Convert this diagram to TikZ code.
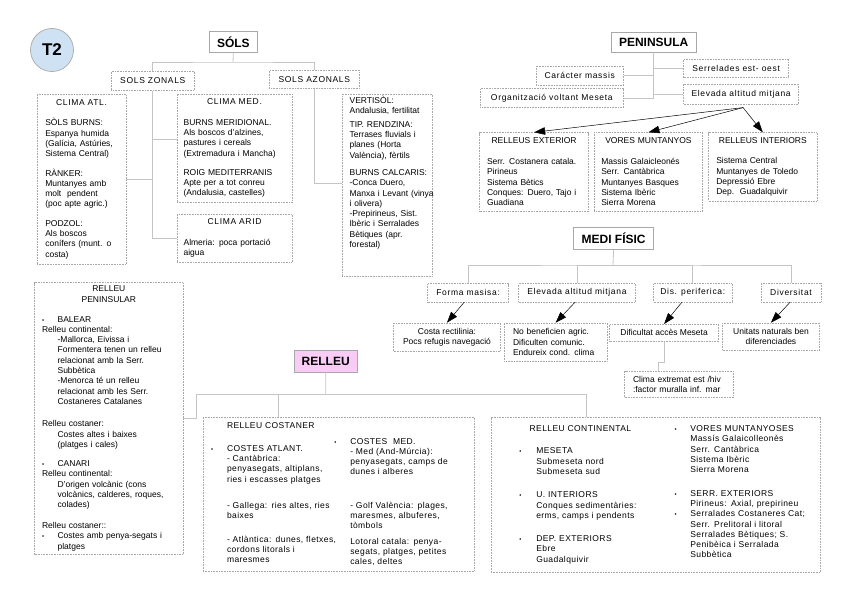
\documentclass[tikz,border=0pt]{standalone}
\usepackage{fontspec}
\setmainfont{Liberation Sans}
\newfontfamily\tagfamily[LetterSpace=8]{Liberation Sans}
\newfontfamily\boxfamily[LetterSpace=5]{Liberation Sans}
\usetikzlibrary{arrows.meta}

\definecolor{linkgray}{HTML}{C4C4C4}
\definecolor{boxgray}{HTML}{A8A8A8}
\definecolor{titlepink}{HTML}{F9CCF6}
\definecolor{t2blue}{HTML}{CFE2F3}

\newcommand\bodyfont{\fontsize{8.5}{10.3}\selectfont}
\newcommand\tagfont{\tagfamily\fontsize{8.5}{10.3}\selectfont}
\newcommand\boxfont{\boxfamily\fontsize{8.5}{10.3}\selectfont}
\newcommand\titlefont{\fontsize{12}{12}\selectfont\bfseries}
\newcommand\pind{\hspace*{15.6pt}}
\newcommand\pbul{\makebox[15.6pt][l]{\fontsize{6}{6}\selectfont\textbullet}}
\newcommand\lbul[1]{\leavevmode\llap{\makebox[#1][l]{\fontsize{6}{6}\selectfont\textbullet}}}
\newcommand\midline[1]{\hfill{#1}\hfill\null}

\begin{document}
\begin{tikzpicture}[x=1pt, y=-1pt,
  link/.style={draw=linkgray, line width=0.8pt},
  arr/.style={-{Triangle[length=11pt,width=7.5pt]}, line width=0.5pt},
  card/.style={draw=boxgray, densely dotted, line width=0.6pt, anchor=north west,
    align=left, font=\bodyfont, inner ysep=2pt},
  tag/.style={draw=boxgray, densely dotted, line width=0.6pt, anchor=north west,
    align=center, font=\tagfont, inner sep=1pt},
  title/.style={draw=boxgray, line width=0.7pt, fill=white, anchor=north west,
    font=\titlefont, inner sep=1pt},
]
\useasboundingbox (0,0) rectangle (848,599);

% soils
\node[circle, draw=boxgray, line width=0.7pt, fill=t2blue, minimum size=43pt,
  inner sep=0pt, font=\fontsize{17}{17}\selectfont\bfseries] (t2) at (52,50) {T2};
\node[title, minimum width=48pt, minimum height=21pt] (sols) at (209,31) {SÓLS};
\node[tag, minimum width=83pt, minimum height=19pt] (zon) at (111,71) {SOLS ZONALS};
\node[tag, minimum width=90pt, minimum height=18pt] (azon) at (269,70) {SOLS AZONALS};

\node[card, inner xsep=8.3pt, text width=72.4pt, minimum height=170pt] (atl) at (36.7,94)
  {\midline{\tagfamily CLIMA ATL.}\\[10pt]
   SÒLS BURNS:\\ Espanya humida\\ (Galícia, Astúries,\\ Sistema Central)\\[9pt]
   RÀNKER:\\ Muntanyes amb\\ molt\ \ pendent\\ (poc apte agric.)\\[9pt]
   PODZOL:\\ Als boscos\\ conífers (munt. o\\ costa)};
\node[card, inner xsep=6.6pt, text width=101.8pt, minimum height=108pt] (med) at (176.7,94)
  {\midline{\tagfamily CLIMA MED.}\\[10pt]
   BURNS MERIDIONAL.\\ Als boscos d'alzines,\\ pastures i cereals\\ (Extremadura i Mancha)\\[9pt]
   ROIG MEDITERRANIS\\ Apte per a tot conreu\\ (Andalusia, castelles)};
\node[card, inner xsep=6.6pt, text width=101.8pt, minimum height=47.7pt] (arid) at (176.7,214)
  {\midline{\tagfamily CLIMA ARID}\\[10pt]
   Almeria: poca portació\\ aigua};
\node[card, inner xsep=7.3pt, text width=75.4pt, minimum height=180pt] (vert) at (342,94)
  {VERTISÒL:\\ Andalusia, fertilitat\\[3pt]
   TIP. RENDZINA:\\ Terrases fluvials i\\ planes (Horta\\ València), fèrtils\\[7pt]
   \mbox{BURNS CALCARIS:}\\ -Conca Duero,\\ \mbox{Manxa i Levant (vinya}\\ i olivera)\\
   -Prepirineus, Sist.\\ \mbox{Ibèric i Serralades}\\ Bètiques (apr.\\ forestal)\\[16pt]\mbox{}};

\coordinate (solsbus) at (233,62);
\draw[link] (sols.south) -- (solsbus);
\draw[link] (zon.north) |- (solsbus) -| (azon.north);
\draw[link] (zon.south) |- (arid.west);
\draw[link] (atl.east) -- (atl.east -| zon.south);
\draw[link] ([yshift=-45pt]med.north west) -- ([yshift=-45pt]med.north west -| zon.south);
\draw[link] (azon.south) |- ([yshift=-89pt]vert.north west);

% peninsula
\node[title, minimum width=85.3pt, minimum height=20pt] (pen) at (610.7,31.7) {PENINSULA};
\node[tag, minimum width=87pt, minimum height=19.3pt] (car) at (536,65.7) {Carácter massis};
\node[tag, minimum width=143pt, minimum height=19pt] (org) at (480,88.3) {Organització voltant Meseta};
\node[tag, minimum width=105pt, minimum height=18.3pt] (serr) at (683.3,59) {Serrelades est- oest};
\node[tag, minimum width=115pt, minimum height=20pt] (elev) at (683.3,84) {Elevada altitud mitjana};

\node[card, inner xsep=7.4pt, text width=94.2pt, minimum height=78.4pt] (rext) at (479.3,132.3)
  {\midline{RELLEUS EXTERIOR}\\[10.4pt]
   Serr. Costanera catala.\\ Pirineus\\ Sistema Bètics\\ Conques: Duero, Tajo i\\ Guadiana};
\node[card, inner xsep=7pt, text width=94.3pt, minimum height=78.4pt] (vores) at (594,132.3)
  {\midline{VORES MUNTANYOS}\\[10.4pt]
   Massis Galaicleonés\\ Serr. Cantàbrica\\ Muntanyes Basques\\ Sistema Ibèric\\ Sierra Morena};
\node[card, inner xsep=7.7pt, text width=93pt, minimum height=68.4pt] (rint) at (708.3,132.3)
  {\midline{RELLEUS INTERIORS}\\[10.4pt]
   Sistema Central\\ Muntanyes de Toledo\\ Depressió Ebre\\ Dep.\ \ Guadalquivir};

\draw[link] (pen.south) |- (org.east);
\draw[link] (car.east) -- (car.east -| pen.south);
\draw[link] (serr.west) -- (serr.west -| pen.south);
\draw[link] (elev.west) -- (elev.west -| pen.south);
\coordinate (fork) at ([xshift=2pt,yshift=-3pt]elev.south);
\draw[arr] (fork) -- (rext.north);
\draw[arr] (fork) -- (vores.north);
\draw[arr] (fork) -- (rint.north);

% medi fisic
\node[title, minimum width=80pt, minimum height=21.7pt] (medi) at (573.3,227.3) {MEDI FÍSIC};
\node[tag, minimum width=81pt, minimum height=18.4pt] (forma) at (427.3,283.3) {Forma masisa:};
\node[tag, minimum width=116.7pt, minimum height=18.4pt] (alt) at (518.3,283.3) {Elevada altitud mitjana};
\node[tag, minimum width=78.4pt, minimum height=18.4pt] (dis) at (653.3,283.3) {Dis. periferica:};
\node[tag, minimum width=60pt, minimum height=18.4pt] (divers) at (760.7,283.3) {Diversitat};

\node[tag, font=\bodyfont, minimum width=106.7pt, minimum height=28pt] (costa) at (393.3,322.7)
  {Costa rectilinia:\\ Pocs refugis navegació};
\node[card, inner xsep=8.7pt, text width=85.3pt, minimum height=38.3pt] (nob) at (504,322.7)
  {No beneficien agric.\\ Dificulten comunic.\\ Endureix cond. clima};
\node[tag, font=\bodyfont, minimum width=109pt, minimum height=17pt] (dif) at (609.3,324)
  {Dificultat accès Meseta};
\node[tag, font=\bodyfont, minimum width=96.7pt, minimum height=27.3pt] (unit) at (722.3,322.7)
  {Unitats naturals ben\\ diferenciades};
\node[card, inner xsep=8.4pt, text width=91.6pt, minimum height=26.6pt] (clima) at (624.3,370.7)
  {Clima extremat est /hiv\\ :factor muralla inf. mar};

\coordinate (mbus) at (613,265);
\draw[link] (medi.south) -- (mbus);
\draw[link] (forma.north) |- (mbus) -| (divers.north);
\draw[link] (alt.north) |- (mbus);
\draw[link] (dis.north) |- (mbus);
\draw[arr] ([xshift=-4pt]forma.south) -- (costa.north);
\draw[arr] ([xshift=-2pt]alt.south) -- (nob.north);
\draw[arr] ([xshift=-11pt]dis.south) -- (dif.north);
\draw[arr] ([xshift=-1pt]divers.south) -- (unit.north);
\draw[link] (dif.south) |- ([xshift=-20pt,yshift=8pt]clima.north) -- ([xshift=-20pt]clima.north);

% relleu
\node[title, fill=titlepink, minimum width=62.7pt, minimum height=21.7pt] (relleu) at (294,350) {RELLEU};

\node[card, inner xsep=7.4pt, text width=133.6pt, minimum height=271.7pt] (penins) at (34.3,282.3)
  {\midline{RELLEU}\\ \midline{PENINSULAR}\\[9.7pt]
   \pbul BALEAR\\ Relleu continental:\\
   \pind -Mallorca, Eivissa i\\ \pind Formentera tenen un relleu\\
   \pind relacionat amb la Serr.\\ \pind Subbètica\\
   \pind -Menorca té un relleu\\ \pind relacionat amb les Serr.\\
   \pind Costaneres Catalanes\\[12pt]
   Relleu costaner:\\ \pind Costes altes i baixes\\ \pind (platges i cales)\\[9pt]
   \pbul CANARI\\ Relleu continental:\\
   \pind D'origen volcànic (cons\\ \pind volcànics, calderes, roques,\\ \pind colades)\\[10.4pt]
   Relleu costaner::\\ \pbul Costes amb penya-segats i\\ \pind platges};

\node[card, font=\boxfont, inner xsep=0pt, text width=271.3pt, minimum height=154pt] (cost) at (202.7,416.7)
  {\hspace*{24pt}\begin{minipage}[t]{115pt}\raggedright
     RELLEU COSTANER\\[13pt]
     \lbul{16pt}COSTES ATLANT.\\ - Cantàbrica:\\ penyasegats, altiplans,\\ ries i escasses platges\\[16pt]
     - Gallega: ries altes, ries\\ baixes\\[13pt]
     - Atlàntica: dunes, fletxes,\\ cordons litorals i\\ maresmes
   \end{minipage}\hspace{8.3pt}\begin{minipage}[t]{116pt}\raggedright
     \mbox{}\\[5.7pt]
     \lbul{16pt}COSTES\ \ MED.\\ - Med (And-Múrcia):\\ penyasegats, camps de\\ dunes i alberes\\[23pt]
     - Golf València: plages,\\ maresmes, albuferes,\\ tòmbols\\[5pt]
     Lotoral catala: penya-\\ segats, platges, petites\\ cales, deltes
   \end{minipage}};

\node[card, font=\boxfont, inner xsep=0pt, text width=329.3pt, minimum height=154.4pt] (cont) at (490.7,417.3)
  {\hspace*{45.3pt}\begin{minipage}[t]{138.3pt}\raggedright
     \hspace*{-6.7pt}RELLEU CONTINENTAL\\[12pt]
     \lbul{17pt}MESETA\\ Submeseta nord\\ Submeseta sud\\[13pt]
     \lbul{17pt}U. INTERIORS\\ Conques sedimentàries:\\ erms, camps i pendents\\[12.7pt]
     \lbul{17pt}DEP. EXTERIORS\\ Ebre\\ Guadalquivir
   \end{minipage}\hspace{15.7pt}\begin{minipage}[t]{128pt}\raggedright
     \lbul{15.7pt}VORES MUNTANYOSES\\ Massís Galaicolleonès\\ Serr. Cantàbrica\\ Sistema Ibèric\\ Sierra Morena\\[13pt]
     \lbul{15.7pt}SERR. EXTERIORS\\ Pirineus: Axial, prepirineu\\
     \lbul{15.7pt}Serralades Costaneres Cat;\\ Serr. Prelitoral i litoral\\
     Serralades Bètiques; S.\\ Penibèica i Serralada\\ Subbètica
   \end{minipage}};

\coordinate (rbus) at (325.7,394);
\coordinate (rleft) at (196.7,394);
\draw[link] (relleu.south) -- (rbus);
\draw[link] (penins.east) -| (rleft) -- (rbus);
\draw[link] ([xshift=-60pt]cost.north) |- (rbus);
\draw[link] ([xshift=-69pt]cont.north) |- (rbus);
\end{tikzpicture}
\end{document}
